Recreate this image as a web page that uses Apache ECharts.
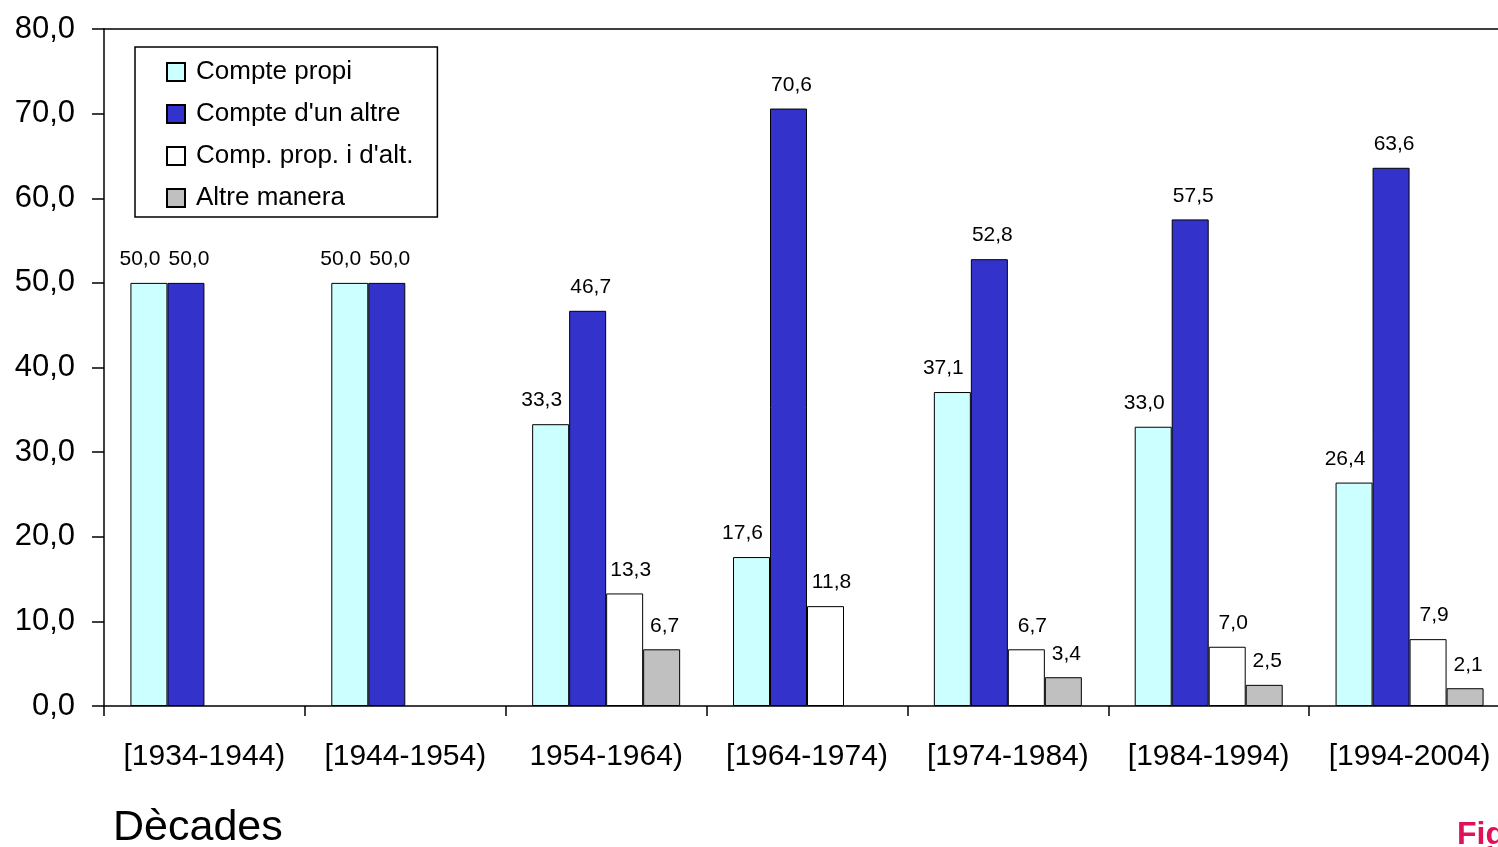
<!DOCTYPE html>
<html>
<head>
<meta charset="utf-8">
<script src="https://cdn.jsdelivr.net/npm/echarts@6/dist/echarts.min.js"></script>
<style>
  html, body { margin: 0; padding: 0; background: #fff; overflow: hidden; width: 1498px; height: 847px; }
  #chart { width: 1510px; height: 847px; }
</style>
</head>
<body>
<div id="chart"></div>
<script>
const categories = ['[1934-1944)', '[1944-1954)', '1954-1964)', '[1964-1974)', '[1974-1984)', '[1984-1994)', '[1994-2004)'];
const seriesNames = ['Compte propi', "Compte d'un altre", "Comp. prop. i d'alt.", 'Altre manera'];
const comptePropi = [50.0, 50.0, 33.3, 17.6, 37.1, 33.0, 26.4];
const compteAltre = [50.0, 50.0, 46.7, 70.6, 52.8, 57.5, 63.6];
const compPropAlt = [null, null, 13.3, 11.8, 6.7, 7.0, 7.9];
const altreManera = [null, null, 6.7, null, 3.4, 2.5, 2.1];
const yTicks = [0, 10, 20, 30, 40, 50, 60, 70, 80];
const xTitle = 'Dècades';
const footText = 'Fig';

const FONT = '"Liberation Sans", Arial, sans-serif';
const fmt = v => Number(v).toFixed(1).replace('.', ',');

const colors = ['#CCFFFF', '#3333CC', '#FFFFFF', '#C0C0C0'];
const labelOffsets = [[-9, 0], [3, 0], [6, 0], [3, 0]];
const datasets = [comptePropi, compteAltre, compPropAlt, altreManera];

const chart = echarts.init(document.getElementById('chart'));
chart.setOption({
  animation: false,
  backgroundColor: '#fff',
  textStyle: { fontFamily: FONT },
  grid: { left: 104, top: 29, bottom: 141, right: 0, containLabel: false },
  legend: {
    orient: 'vertical',
    left: 135,
    top: 47,
    padding: [12, 24, 6, 31],
    itemGap: 16,
    itemWidth: 18,
    itemHeight: 18,
    icon: 'rect',
    borderColor: '#000',
    borderWidth: 1.5,
    backgroundColor: '#fff',
    textStyle: { fontFamily: FONT, fontSize: 26, color: '#000', padding: [0, 0, 0, 6] },
    data: seriesNames
  },
  xAxis: [{
    type: 'category',
    data: categories,
    boundaryGap: true,
    axisLine: { lineStyle: { color: '#000', width: 1.5 } },
    axisTick: { show: true, length: 10, lineStyle: { color: '#000', width: 1.5 } },
    axisLabel: { fontFamily: FONT, fontSize: 30, color: '#000', margin: 36, interval: 0 },
    splitLine: { show: false }
  }, {
    type: 'category',
    data: categories,
    position: 'top',
    axisLine: { show: true, lineStyle: { color: '#000', width: 1.5 } },
    axisTick: { show: false },
    axisLabel: { show: false }
  }],
  yAxis: {
    type: 'value',
    min: yTicks[0],
    max: yTicks[yTicks.length - 1],
    interval: 10,
    axisLine: { show: true, lineStyle: { color: '#000', width: 1.5 } },
    axisTick: { show: true, length: 12, lineStyle: { color: '#000', width: 1.5 } },
    axisLabel: { fontFamily: FONT, fontSize: 31, color: '#000', margin: 29, formatter: fmt },
    splitLine: { show: false }
  },
  series: datasets.map((d, i) => ({
    name: seriesNames[i],
    type: 'bar',
    data: d,
    barWidth: 37,
    barGap: '0%',
    itemStyle: { color: colors[i], borderColor: '#000', borderWidth: 1 },
    label: {
      show: true,
      position: 'top',
      distance: 13,
      offset: labelOffsets[i],
      fontFamily: FONT,
      fontSize: 21,
      color: '#000',
      formatter: p => fmt(p.value)
    }
  })),
  graphic: [
    { type: 'text', left: 113, top: 807, style: { text: xTitle, font: '43px ' + FONT, fill: '#000' } },
    { type: 'text', left: 1457, top: 819, style: { text: footText, font: 'bold 32px ' + FONT, fill: '#E0105A' } }
  ]
});
</script>
</body>
</html>
